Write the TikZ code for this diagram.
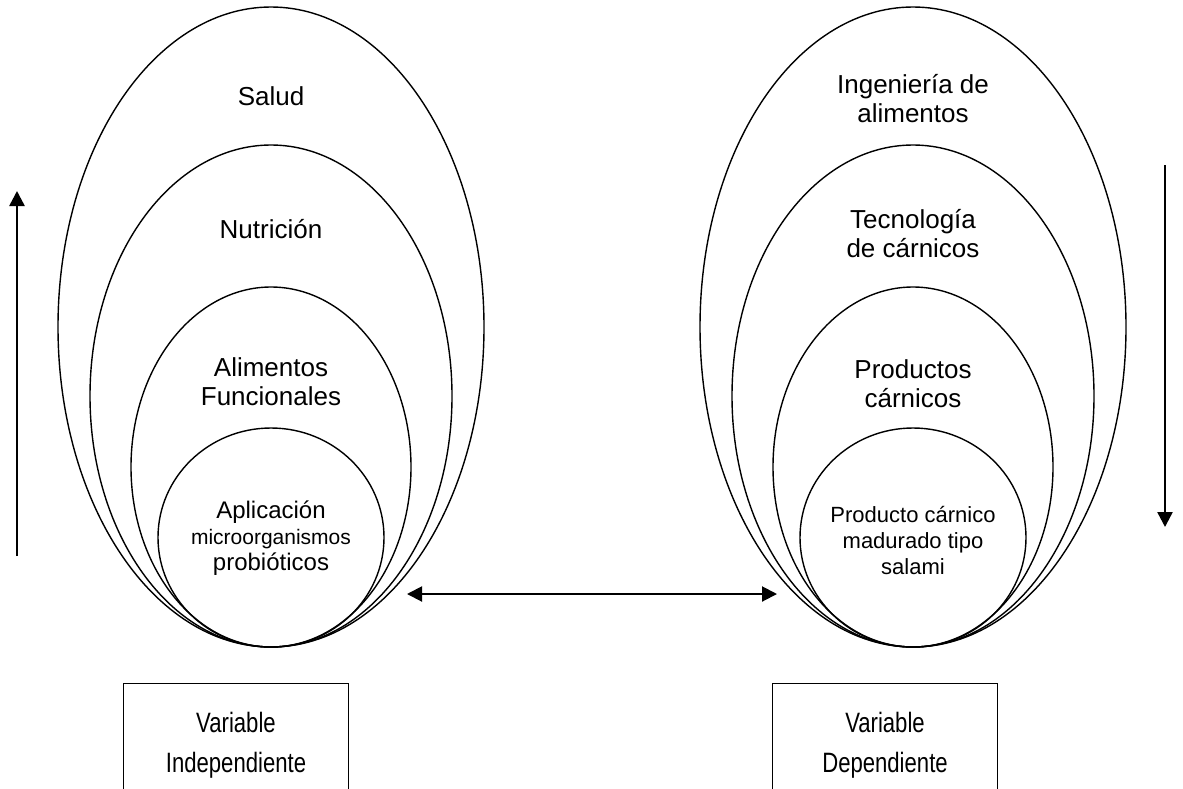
\documentclass[tikz,border=0pt]{standalone}
\usepackage{fontspec}
\setmainfont{Liberation Sans}
\newfontfamily\narrowfont[FakeStretch=0.79]{Liberation Sans}
\usetikzlibrary{arrows.meta,positioning,shapes.geometric}

\begin{document}
\begin{tikzpicture}[>={Triangle[length=15pt,width=15pt]},x=1pt,y=-1pt,
  oval/.style={draw,ellipse,line width=1.4pt,inner sep=0pt},
  big/.style={font=\fontsize{26}{29}\selectfont,align=center},
  varbox/.style={draw,line width=1.2pt,minimum width=225pt,minimum height=124pt,anchor=north,align=center,font=\narrowfont\fontsize{28}{40}\selectfont}]
\useasboundingbox (0,0) rectangle (1183,788);
\clip (0,0) rectangle (1183,788);
% variable independiente
\node[oval,minimum width=426pt,minimum height=640pt] (salud) at (271,327) {};
\node[oval,minimum width=362pt,minimum height=502pt] (nutri) at (271,396) {};
\node[oval,minimum width=280pt,minimum height=360pt] (alifun) at (271,467) {};
\node[oval,minimum width=226pt,minimum height=219pt] (aplic) at (271,537.5) {};
\node[big] (tsalud) at (271,96) {Salud};
\node[big] (tnutri) at (271,229) {Nutrición};
\node[big] (talifun) at (271,382) {Alimentos\\Funcionales};
\node[align=center,font=\fontsize{24}{26}\selectfont] (taplic) at (271,538) {Aplicación\\{\fontsize{21}{26}\selectfont microorganismos}\\probióticos};
% variable dependiente
\node[oval,minimum width=426pt,minimum height=640pt] (ingal) at (913,327) {};
\node[oval,minimum width=362pt,minimum height=502pt] (tecno) at (913,396) {};
\node[oval,minimum width=280pt,minimum height=360pt] (prodcar) at (913,467) {};
\node[oval,minimum width=226pt,minimum height=219pt] (salami) at (913,537.5) {};
\node[big] (tingal) at (913,99) {Ingeniería de\\alimentos};
\node[big] (ttecno) at (913,234) {Tecnología\\de cárnicos};
\node[big] (tprodcar) at (913,384) {Productos\\cárnicos};
\node[align=center,font=\fontsize{22}{26}\selectfont] (tsalami) at (913,540) {Producto cárnico\\madurado tipo\\salami};
% flechas
\coordinate (upbot) at (17,556);
\coordinate (uptop) at (17,191);
\draw[->,line width=2.5pt] (upbot) -- (uptop);
\coordinate (dntop) at (1165,165);
\coordinate (dnbot) at (1165,527);
\draw[->,line width=2.5pt] (dntop) -- (dnbot);
\coordinate (relizq) at (407,594);
\coordinate (relder) at (777,594);
\draw[<->,line width=2pt] (relizq) -- (relder);
% cajas
\node[varbox] (vind) at (236,683) {Variable\\Independiente};
\node[varbox] (vdep) at (885,683) {Variable\\Dependiente};
\end{tikzpicture}
\end{document}
